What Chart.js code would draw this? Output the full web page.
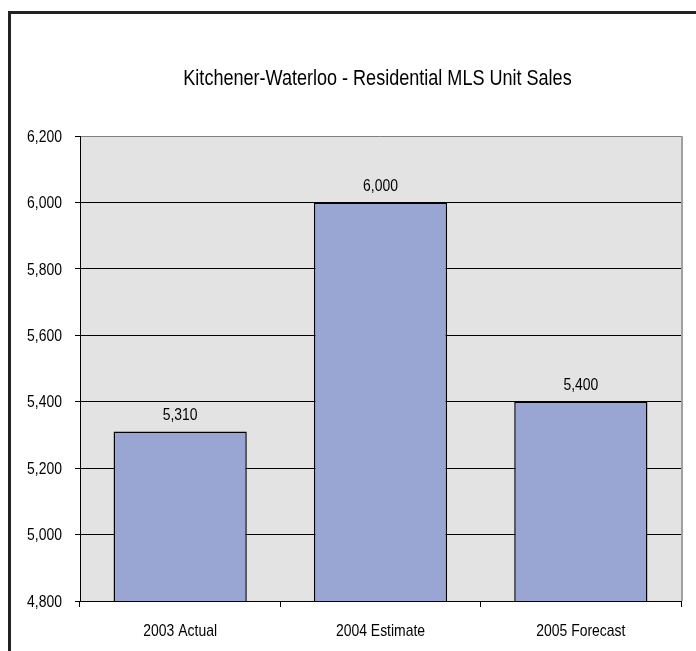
<!DOCTYPE html>
<html>
<head>
<meta charset="utf-8">
<script src="https://cdn.jsdelivr.net/npm/chart.js@4/dist/chart.umd.min.js"></script>
<style>
  html, body { margin: 0; padding: 0; background: #fff; overflow: hidden; }
  #wrap { position: relative; width: 696px; height: 651px; }
  #frame { position: absolute; left: 8px; top: 11px; width: 800px; height: 800px;
           border: 3px solid #222; box-sizing: border-box; }
  canvas { position: absolute; left: 0; top: 0; }
</style>
</head>
<body>
<div id="wrap">
  <div id="frame"></div>
  <canvas id="chart" width="696" height="651"></canvas>
</div>
<script>
// Kitchener-Waterloo residential MLS unit sales, actual / estimate / forecast
const CATEGORIES = ['2003 Actual', '2004 Estimate', '2005 Forecast'];
const UNIT_SALES = [5310, 6000, 5400];
const Y_MIN = 4800, Y_MAX = 6200, Y_STEP = 200;
const TITLE = 'Kitchener-Waterloo - Residential MLS Unit Sales';

const FONT = "'Liberation Sans', Arial, sans-serif";
const NARROW = 0.82; // squeeze regular sans into an Arial-Narrow-like width
const PLOT_BG = '#E3E3E3', BAR_FILL = '#99A6D4';

const fmt = (v) => v.toLocaleString('en-US');

function narrowText(ctx, text, x, y, align, size) {
  ctx.save();
  ctx.translate(x, y);
  ctx.scale(NARROW, 1);
  ctx.font = `${size}px ${FONT}`;
  ctx.fillStyle = '#000';
  ctx.textAlign = align;
  ctx.textBaseline = 'middle';
  ctx.fillText(text, 0, 0);
  ctx.restore();
}

// grey plot background with the lighter top / right edges
const plotBackground = {
  id: 'plotBackground',
  beforeDraw(chart) {
    const { ctx, chartArea: a } = chart;
    ctx.save();
    ctx.fillStyle = PLOT_BG;
    ctx.fillRect(a.left, a.top, a.right - a.left, a.bottom - a.top);
    ctx.strokeStyle = '#808080';
    ctx.lineWidth = 1;
    ctx.beginPath();
    ctx.moveTo(a.left, a.top + 0.5);
    ctx.lineTo(a.right, a.top + 0.5);
    ctx.stroke();
    ctx.strokeStyle = '#A0A0A0';
    ctx.lineWidth = 2;
    ctx.beginPath();
    ctx.moveTo(a.right + 1, a.top);
    ctx.lineTo(a.right + 1, a.bottom);
    ctx.stroke();
    ctx.restore();
  },
};

// title, axis labels and bar values in the condensed face
const narrowLabels = {
  id: 'narrowLabels',
  afterDraw(chart) {
    const { ctx, chartArea: a, scales } = chart;
    narrowText(ctx, TITLE, (a.left + a.right) / 2 - 3, 79, 'center', 22);

    scales.y.ticks.forEach((t, i) => {
      narrowText(ctx, fmt(t.value), a.left - 18, scales.y.getPixelForTick(i) + 1, 'right', 17);
    });
    scales.x.ticks.forEach((t, i) => {
      narrowText(ctx, scales.x.getLabelForValue(t.value), scales.x.getPixelForTick(i), a.bottom + 30, 'center', 17);
    });

    chart.getDatasetMeta(0).data.forEach((bar, i) => {
      narrowText(ctx, fmt(UNIT_SALES[i]), bar.x, bar.y - 16, 'center', 17);
    });
  },
};

new Chart(document.getElementById('chart'), {
  type: 'bar',
  data: {
    labels: CATEGORIES,
    datasets: [{
      data: UNIT_SALES,
      backgroundColor: BAR_FILL,
      borderColor: '#000',
      borderWidth: 1.5,
      borderSkipped: 'bottom',
      barPercentage: 0.665,
      categoryPercentage: 1,
    }],
  },
  options: {
    responsive: false,
    animation: false,
    layout: { padding: { top: 136, left: 0, right: 15, bottom: 0 } },
    plugins: {
      legend: { display: false },
      tooltip: { enabled: false },
      title: { display: false },
    },
    scales: {
      x: {
        afterFit(scale) { scale.height = 50; },
        grid: {
          offset: true,
          drawOnChartArea: false,
          tickLength: 6,
          tickColor: '#000',
        },
        border: { color: '#000', width: 1 },
        ticks: { display: false },
      },
      y: {
        min: Y_MIN,
        max: Y_MAX,
        afterFit(scale) { scale.width = 80; },
        grid: {
          color: (c) => (c.tick && c.tick.value === Y_MAX ? 'rgba(0,0,0,0)' : '#000'),
          tickLength: 5,
          tickColor: '#000',
        },
        border: { color: '#000', width: 1 },
        ticks: { display: false, stepSize: Y_STEP },
      },
    },
  },
  plugins: [plotBackground, narrowLabels],
});
</script>
</body>
</html>
